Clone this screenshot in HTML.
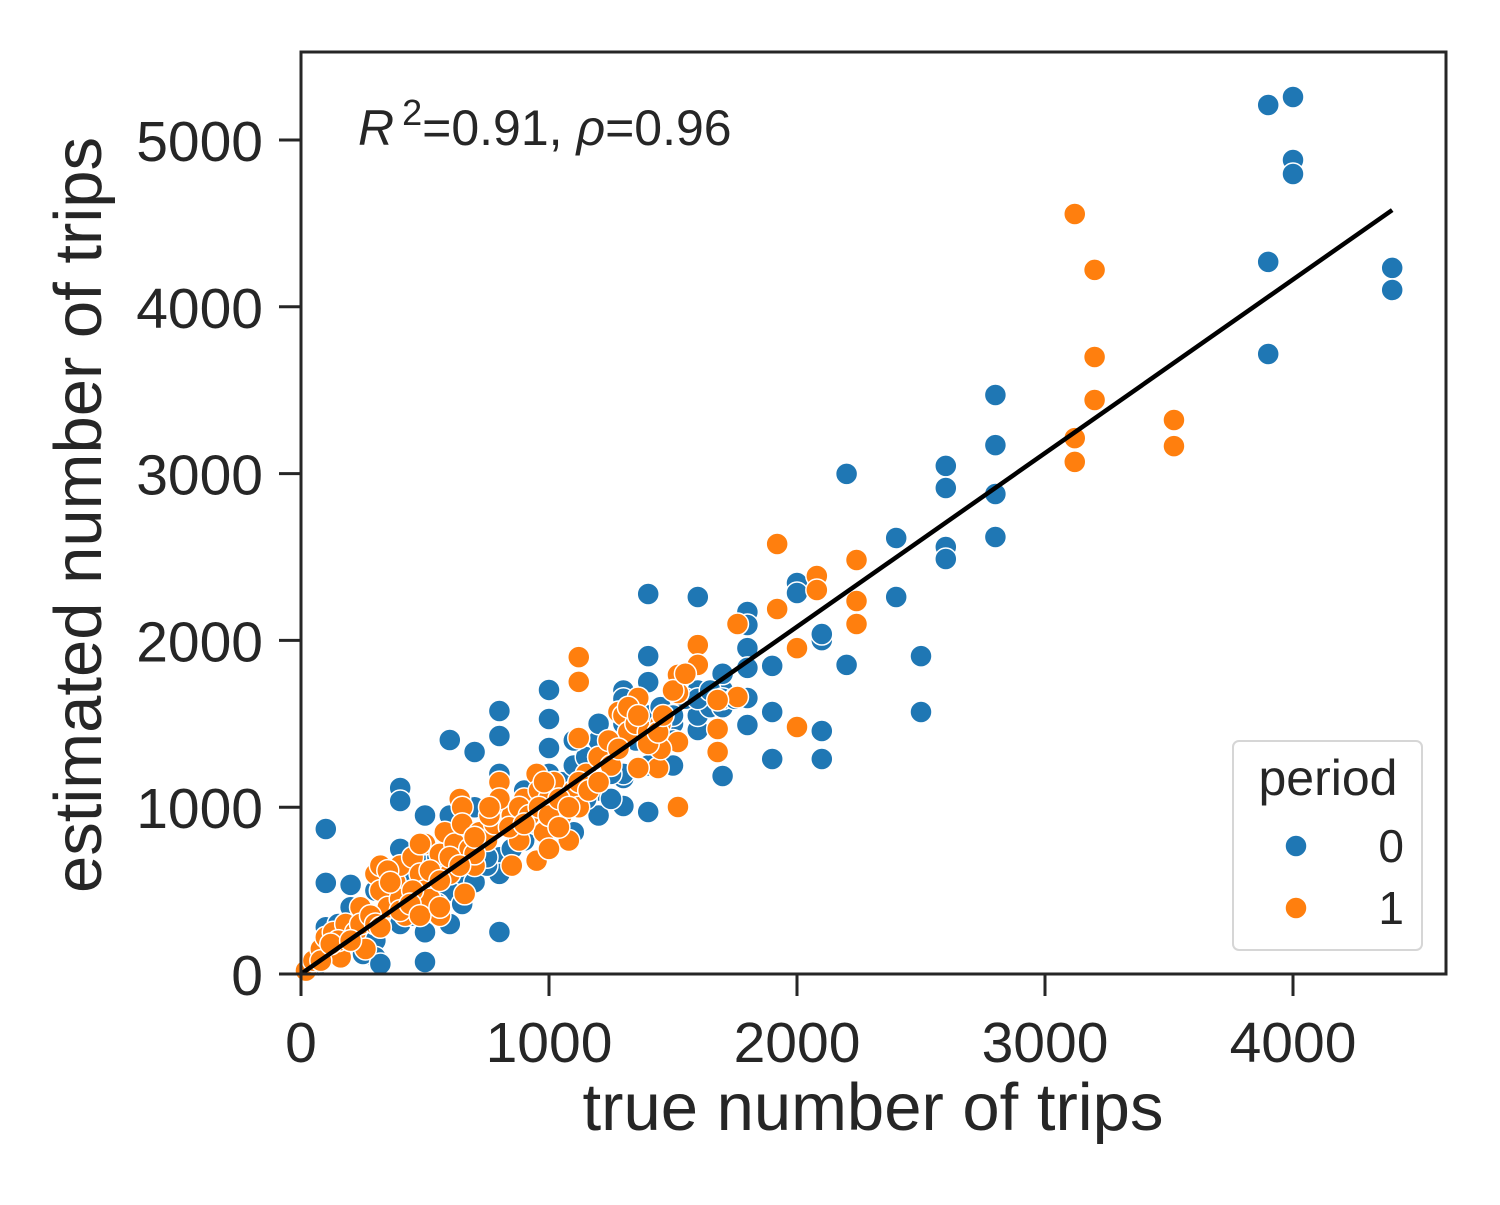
<!DOCTYPE html>
<html><head><meta charset="utf-8"><style>
body{margin:0;background:#fff;}
svg text{font-family:"Liberation Sans",Arial,sans-serif;fill:#262626;}
</style></head><body>
<svg width="1500" height="1200" viewBox="0 0 1500 1200">
<rect x="0" y="0" width="1500" height="1200" fill="#fff"/>
<g id="pts"></g>
<line id="fit" stroke="#000" stroke-width="4.5"/>
<rect x="301" y="52" width="1145" height="922" fill="none" stroke="#262626" stroke-width="3"/>
<g id="xt"></g>
<g id="yt"></g>
<text x="873" y="1130" font-size="67" text-anchor="middle">true number of trips</text>
<text transform="translate(101,515) rotate(-90)" font-size="67" text-anchor="middle">estimated number of trips</text>
<text x="358" y="145" font-size="50"><tspan font-style="italic">R</tspan><tspan dx="8" dy="-20" font-size="36">2</tspan><tspan dy="20">=0.91, </tspan><tspan font-style="italic">ρ</tspan>=0.96</text>
<g>
<rect x="1233" y="741" width="189" height="209" rx="6" fill="#fff" fill-opacity="0.8" stroke="#d6d6d6" stroke-width="2"/>
<text x="1328" y="795" font-size="50" text-anchor="middle">period</text>
<circle cx="1296" cy="846" r="11" fill="#1f77b4" stroke="#fff" stroke-width="1.5"/>
<text x="1404" y="862" font-size="46" text-anchor="end">0</text>
<circle cx="1296" cy="908" r="11" fill="#ff7f0e" stroke="#fff" stroke-width="1.5"/>
<text x="1404" y="924" font-size="46" text-anchor="end">1</text>
</g>
</svg>
<script>
const xTicks=[0,1000,2000,3000,4000];
const yTicks=[0,1000,2000,3000,4000,5000];
const fitStart=[0,0];
const fitEnd=[4400,4580];
const blue=[[3900,5210],[4000,5258],[4000,4880],[4000,4796],[3900,4269],[3900,3717],[4400,4233],[4400,4101],[2800,3471],[2800,3171],[2800,2878],[2800,2620],[2600,3046],[2600,2914],[2600,2560],[2600,2488],[2200,2998],[2400,2614],[2400,2260],[2200,1853],[2500,1906],[2500,1571],[2100,2002],[2100,2038],[2100,1457],[2100,1289],[2000,2344],[2000,2284],[1900,1289],[1900,1571],[1900,1847],[1800,2170],[1800,2092],[1800,1954],[1800,1835],[1800,1655],[1800,1493],[1700,1187],[1700,1703],[1600,2260],[1600,1463],[1400,2278],[1400,1906],[1400,971],[700,1331],[600,1403],[1000,1703],[1000,1529],[1000,1355],[800,1577],[800,1427],[800,252],[400,1115],[400,1037],[100,869],[100,546],[200,534],[500,72],[1300,1007],[1300,1175],
[100,280],[100,200],[100,150],[150,300],[200,250],[200,400],[250,350],[300,500],[300,200],[300,100],[350,450],[400,600],[400,300],[400,750],[450,550],[500,650],[500,400],[500,950],[500,250],[550,700],[600,800],[600,500],[600,950],[600,300],[650,850],[650,600],[700,750],[700,1000],[700,550],[750,850],[800,900],[800,700],[800,1200],[800,600],[850,950],[900,1000],[900,1100],[900,800],[950,1050],[1000,1100],[1000,900],[1000,1200],[1050,1150],[1100,1250],[1100,1000],[1150,1300],[1200,1400],[1200,1100],[1200,950],[1250,1350],[1300,1500],[1300,1200],[1300,1700],[1350,1450],[1400,1550],[1400,1750],[1400,1250],[1450,1600],[1500,1500],[1500,1250],[1600,1700],[1600,1550],[1650,1600],[1700,1800],[1700,1600],[160,100],[250,120],[320,60],[60,50],[30,30],[450,350],[550,420],[650,420],[750,650],[1100,850],[1250,1050],
[1200,1500],[1300,1650],[1350,1400],[1450,1400],[1500,1400],[1550,1650],[1600,1650],[1650,1700],[1700,1650],[1750,1650],[1150,1050],[1050,950],[950,900],[850,750],[750,700],[1100,1400],[1200,1300],[1250,1200],[1400,1450],[1500,1550]];
const orange=[[3120,4556],[3200,4221],[3200,3699],[3200,3441],[3120,3213],[3120,3070],[3520,3321],[3520,3165],[2240,2482],[2240,2236],[2240,2098],[2080,2386],[2080,2302],[1920,2578],[1920,2188],[2000,1954],[2000,1481],[1760,2098],[1760,1661],[1600,1972],[1600,1853],[1520,1793],[1520,1685],[1520,1391],[1520,1001],[1680,1643],[1680,1469],[1680,1331],[1120,1900],[1120,1751],[1120,1415],[1440,1235],[1360,1235],[1360,1655],[1280,1571],[640,1049],
[20,20],[50,80],[80,150],[100,220],[130,250],[160,100],[180,300],[220,250],[240,400],[260,150],[300,600],[320,650],[320,500],[350,400],[380,550],[400,650],[400,450],[420,350],[450,700],[480,600],[500,780],[500,500],[520,450],[560,720],[580,850],[600,600],[620,780],[650,1000],[650,900],[680,750],[700,650],[720,850],[750,800],[780,900],[800,1150],[820,1000],[850,950],[880,800],[900,1050],[950,1200],[960,1100],[980,850],[1000,1050],[1020,1150],[1050,950],[1080,800],[1100,1100],[1120,1000],[1150,1200],[1200,1300],[1250,1250],[1300,1550],[1320,1450],[1350,1500],[1400,1450],[1450,1350],[1450,1500],[1500,1700],[1550,1800],[240,300],[280,350],[150,200],[350,620],[450,500],[560,350],[700,720],[850,650],[950,680],[1000,750],
[80,80],[120,180],[200,200],[300,300],[320,280],[360,550],[400,380],[440,420],[480,350],[480,780],[520,620],[560,560],[600,700],[640,650],[660,480],[700,820],[760,950],[800,1050],[840,880],[880,1000],[920,950],[960,1000],[1000,950],[1040,1050],[1080,1000],[1120,1150],[1160,1100],[1200,1150],[1240,1400],[1280,1350],[1320,1600],[1360,1550],[1400,1380],[1440,1450],[1460,1550],[980,1150],[1040,880],[900,900],[760,1000],[560,400]];
const NS='http://www.w3.org/2000/svg';
const sx=v=>301+v*0.248;
const sy=v=>974-v*0.1668;
const pts=document.getElementById('pts');
function draw(arr,color,name){
  arr.forEach(p=>{
    const c=document.createElementNS(NS,'circle');
    c.setAttribute('cx',sx(p[0]));c.setAttribute('cy',sy(p[1]));c.setAttribute('r',11);
    c.setAttribute('fill',color);c.setAttribute('stroke','#fff');c.setAttribute('stroke-width',1.5);
    
    
    pts.appendChild(c);
  });
}
draw(blue,'#1f77b4','point-period-0');
draw(orange,'#ff7f0e','point-period-1');
const fit=document.getElementById('fit');
fit.setAttribute('x1',sx(fitStart[0]));fit.setAttribute('y1',sy(fitStart[1]));
fit.setAttribute('x2',sx(fitEnd[0]));fit.setAttribute('y2',sy(fitEnd[1]));
const xt=document.getElementById('xt');
xTicks.forEach(v=>{
  const l=document.createElementNS(NS,'line');
  l.setAttribute('x1',sx(v));l.setAttribute('x2',sx(v));l.setAttribute('y1',974);l.setAttribute('y2',996);
  l.setAttribute('stroke','#262626');l.setAttribute('stroke-width',3);
  
  
  xt.appendChild(l);
  const t=document.createElementNS(NS,'text');
  t.setAttribute('x',sx(v));t.setAttribute('y',1062);t.setAttribute('font-size',57);t.setAttribute('text-anchor','middle');
  t.textContent=v;
  
  
  xt.appendChild(t);
});
const yt=document.getElementById('yt');
yTicks.forEach(v=>{
  const l=document.createElementNS(NS,'line');
  l.setAttribute('x1',279);l.setAttribute('x2',301);l.setAttribute('y1',sy(v));l.setAttribute('y2',sy(v));
  l.setAttribute('stroke','#262626');l.setAttribute('stroke-width',3);
  
  
  yt.appendChild(l);
  const t=document.createElementNS(NS,'text');
  t.setAttribute('x',263);t.setAttribute('y',sy(v)+21);t.setAttribute('font-size',57);t.setAttribute('text-anchor','end');
  t.textContent=v;
  
  
  yt.appendChild(t);
});
</script>
</body></html>
